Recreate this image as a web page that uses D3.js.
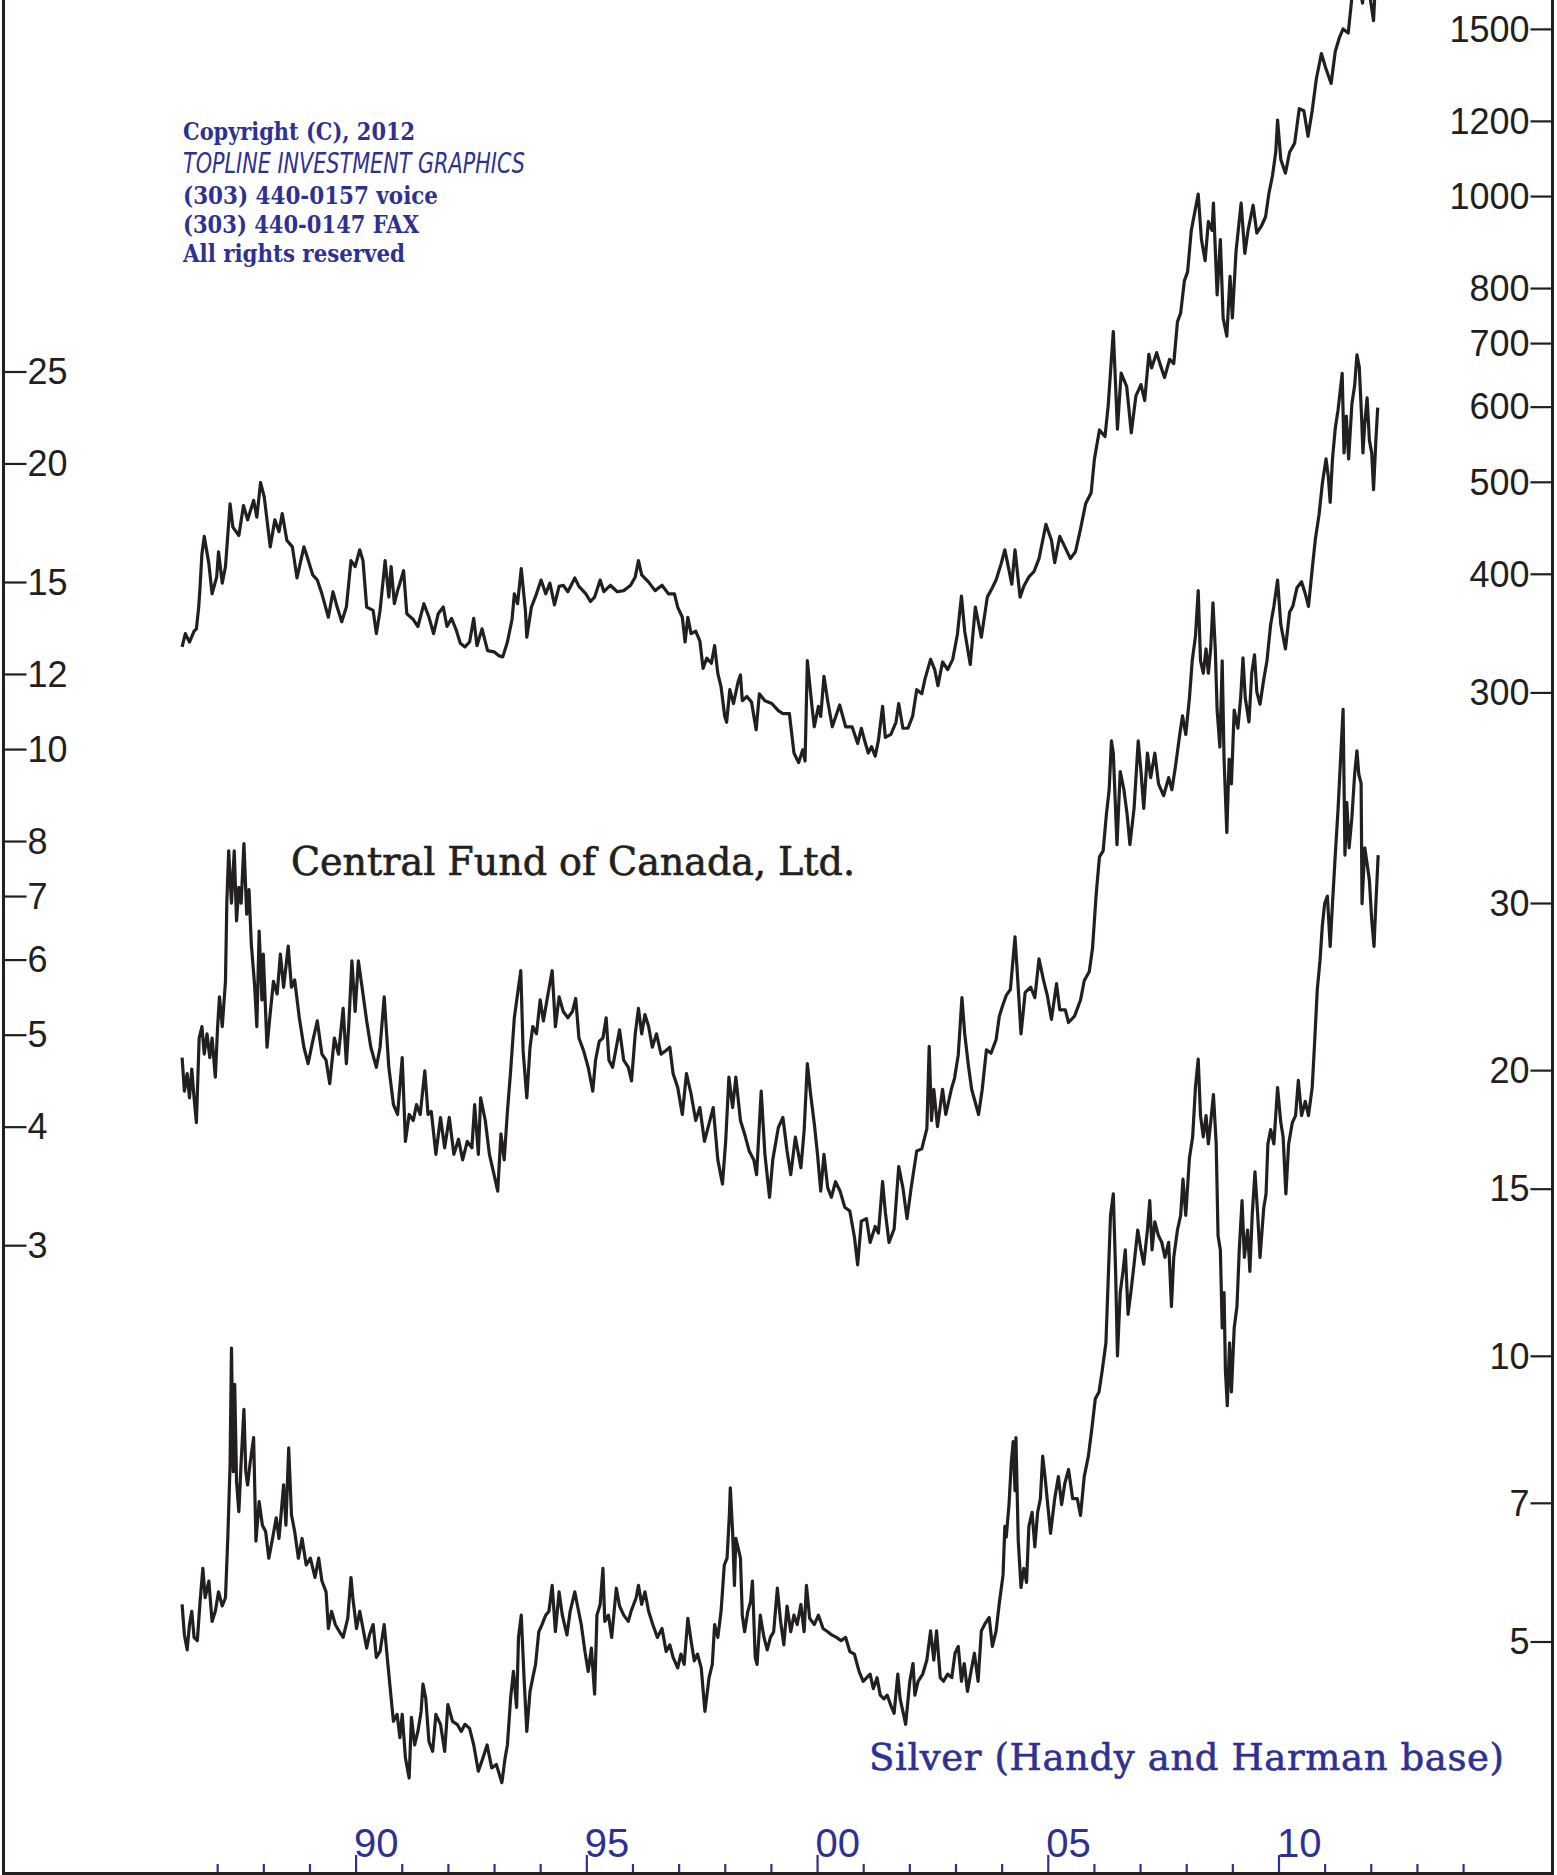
<!DOCTYPE html>
<html>
<head>
<meta charset="utf-8">
<script src="https://cdn.jsdelivr.net/npm/d3@7"></script>
<style>
  body { margin: 0; background: #fff; }
  svg { display: block; }
</style>
</head>
<body>
<div id="chart"></div>
<script>
// gold, $/oz
const goldPrice = [
  [1986.24,335],[1986.31,346],[1986.40,339],[1986.50,348],[1986.55,350],[1986.60,369],[1986.63,388],[1986.67,420],[1986.72,438],[1986.82,410],[1986.89,381],[1986.99,397],
  [1987.03,422],[1987.11,391],[1987.18,407],[1987.28,474],[1987.34,448],[1987.47,439],[1987.57,472],[1987.66,456],[1987.79,478],[1987.86,459],[1987.94,499],
  [1988.02,482],[1988.15,427],[1988.25,456],[1988.34,443],[1988.41,463],[1988.51,434],[1988.63,427],[1988.73,396],[1988.88,427],[1988.93,420],
  [1989.07,399],[1989.17,394],[1989.27,381],[1989.41,360],[1989.51,383],[1989.60,369],[1989.70,356],[1989.80,369],[1989.90,413],[1989.99,407],
  [1990.09,424],[1990.16,413],[1990.24,369],[1990.38,366],[1990.45,346],[1990.53,366],[1990.64,413],[1990.72,378],[1990.77,407],[1990.84,372],[1990.91,384],[1990.96,391],
  [1991.04,403],[1991.11,363],[1991.25,358],[1991.35,352],[1991.48,372],[1991.59,360],[1991.69,346],[1991.79,363],[1991.90,369],[1991.98,352],
  [1992.08,359],[1992.18,349],[1992.27,338],[1992.37,335],[1992.47,339],[1992.56,359],[1992.63,336],[1992.74,350],[1992.86,332],
  [1993.00,331],[1993.10,328],[1993.19,327],[1993.29,339],[1993.39,358],[1993.44,381],[1993.51,372],[1993.59,405],[1993.68,366],[1993.71,343],[1993.81,369],[1993.92,381],
  [1994.02,394],[1994.12,381],[1994.21,391],[1994.31,371],[1994.41,388],[1994.50,389],[1994.60,383],[1994.75,396],[1994.84,388],[1994.99,381],
  [1995.09,374],[1995.18,378],[1995.30,394],[1995.38,383],[1995.52,389],[1995.67,383],[1995.81,384],[1995.96,389],
  [1996.06,397],[1996.13,413],[1996.20,399],[1996.35,392],[1996.49,384],[1996.64,389],[1996.78,381],[1996.91,381],[1996.98,369],
  [1997.08,360],[1997.14,339],[1997.20,360],[1997.27,346],[1997.37,348],[1997.46,340],[1997.53,318],[1997.61,326],[1997.71,322],[1997.78,336],[1997.85,314],[1997.92,304],
  [1998.00,283],[1998.04,279],[1998.11,302],[1998.19,292],[1998.29,308],[1998.34,313],[1998.38,294],[1998.48,297],[1998.58,293],[1998.68,274],[1998.75,299],[1998.87,294],
  [1999.02,292],[1999.16,287],[1999.26,285],[1999.40,285],[1999.50,259],[1999.60,253],[1999.69,261],[1999.74,254],[1999.79,324],[1999.89,290],[1999.94,276],
  [2000.03,290],[2000.08,283],[2000.15,312],[2000.23,294],[2000.33,276],[2000.49,291],[2000.62,276],[2000.76,276],[2000.88,265],[2000.96,275],
  [2001.03,267],[2001.11,259],[2001.18,263],[2001.26,257],[2001.33,267],[2001.42,290],[2001.48,269],[2001.60,271],[2001.71,279],[2001.77,292],[2001.86,275],[2001.97,275],
  [2002.07,283],[2002.16,302],[2002.27,299],[2002.34,310],[2002.46,325],[2002.55,317],[2002.62,305],[2002.72,323],[2002.83,317],[2002.94,325],
  [2003.04,345],[2003.13,379],[2003.20,348],[2003.32,321],[2003.43,369],[2003.56,343],[2003.69,378],[2003.79,386],[2003.88,394],[2003.99,410],
  [2004.07,424],[2004.14,408],[2004.22,390],[2004.29,424],[2004.40,378],[2004.48,388],[2004.59,397],[2004.70,402],[2004.81,415],[2004.96,451],
  [2005.08,434],[2005.15,411],[2005.26,438],[2005.37,427],[2005.49,415],[2005.60,422],[2005.71,446],[2005.82,474],[2005.94,487],
  [2006.01,528],[2006.12,567],[2006.24,558],[2006.31,602],[2006.42,720],[2006.51,568],[2006.59,651],[2006.71,630],[2006.81,563],[2006.91,616],
  [2007.02,633],[2007.10,609],[2007.19,681],[2007.25,659],[2007.36,684],[2007.43,666],[2007.53,644],[2007.64,673],[2007.73,666],[2007.81,737],[2007.88,753],[2007.96,814],
  [2008.03,832],[2008.11,920],[2008.26,1005],[2008.33,900],[2008.41,855],[2008.48,940],[2008.56,920],[2008.59,983],[2008.67,787],[2008.74,900],[2008.80,744],[2008.88,712],[2008.95,823],
  [2009.00,744],[2009.08,875],[2009.19,983],[2009.27,870],[2009.34,920],[2009.45,978],[2009.53,914],[2009.63,930],[2009.72,951],[2009.79,1005],[2009.87,1051],[2009.94,1112],[2009.98,1202],
  [2010.05,1093],[2010.15,1057],[2010.24,1112],[2010.35,1137],[2010.45,1236],[2010.55,1230],[2010.64,1156],[2010.73,1230],[2010.82,1329],[2010.93,1413],
  [2011.02,1366],[2011.14,1314],[2011.23,1420],[2011.32,1469],[2011.40,1500],[2011.51,1485],[2011.58,1600],[2011.66,1780],[2011.72,1850],[2011.78,1640],[2011.82,1597],[2011.86,1660],[2011.94,1700],
  [2012.00,1600],[2012.06,1530],[2012.09,1640],[2012.13,1720]
];

// Central Fund of Canada, $ (left scale)
const cefPrice = [
  [1986.24,4.73],[1986.29,4.36],[1986.35,4.55],[1986.40,4.29],[1986.45,4.60],[1986.50,4.29],[1986.55,4.04],[1986.61,4.96],[1986.67,5.10],[1986.72,4.77],[1986.78,5.01],[1986.84,4.73],[1986.89,4.96],[1986.96,4.51],
  [1987.01,5.10],[1987.05,5.48],[1987.11,5.10],[1987.18,5.69],[1987.21,6.91],[1987.25,7.81],[1987.31,6.88],[1987.37,7.81],[1987.42,6.59],[1987.47,7.15],[1987.52,6.88],[1987.58,7.95],[1987.64,6.70],[1987.69,7.11],[1987.74,6.23],[1987.81,5.65],[1987.86,5.10],[1987.91,6.43],[1987.97,5.44],
  [1988.00,6.08],[1988.08,4.85],[1988.15,5.27],[1988.22,5.69],[1988.30,5.52],[1988.37,6.08],[1988.44,5.61],[1988.54,6.20],[1988.61,5.61],[1988.68,5.71],[1988.78,5.21],[1988.88,4.85],[1988.97,4.66],
  [1989.07,4.92],[1989.17,5.17],[1989.27,4.77],[1989.36,4.70],[1989.44,4.44],[1989.54,4.96],[1989.63,4.77],[1989.73,5.33],[1989.80,4.66],[1989.85,5.10],[1989.92,5.98],[1989.99,5.29],
  [1990.06,5.98],[1990.14,5.61],[1990.24,5.17],[1990.33,4.85],[1990.45,4.62],[1990.53,4.85],[1990.62,5.48],[1990.72,4.62],[1990.82,4.22],[1990.91,4.12],
  [1991.01,4.73],[1991.08,3.86],[1991.16,4.12],[1991.25,4.06],[1991.32,4.22],[1991.40,4.12],[1991.50,4.58],[1991.57,4.12],[1991.64,4.15],[1991.74,3.74],[1991.84,4.09],[1991.93,3.80],
  [1992.03,4.09],[1992.13,3.74],[1992.23,3.88],[1992.32,3.69],[1992.42,3.86],[1992.52,3.80],[1992.58,4.22],[1992.66,3.74],[1992.71,4.29],[1992.81,4.06],[1992.90,3.74],
  [1993.00,3.56],[1993.08,3.42],[1993.15,3.93],[1993.22,3.69],[1993.29,4.15],[1993.36,4.58],[1993.44,5.21],[1993.51,5.52],[1993.58,5.84],[1993.63,4.81],[1993.71,4.29],[1993.78,4.85],[1993.84,5.10],[1993.92,5.01],
  [1994.00,5.44],[1994.07,5.17],[1994.17,5.52],[1994.26,5.84],[1994.33,5.10],[1994.41,5.48],[1994.50,5.29],[1994.60,5.21],[1994.70,5.29],[1994.77,5.46],[1994.84,4.96],[1994.94,4.81],
  [1995.04,4.62],[1995.14,4.36],[1995.20,4.70],[1995.28,4.92],[1995.36,4.96],[1995.43,5.21],[1995.49,4.70],[1995.57,4.62],[1995.65,4.85],[1995.72,5.06],[1995.81,4.70],[1995.91,4.62],[1995.98,4.47],
  [1996.06,5.01],[1996.13,5.33],[1996.20,5.01],[1996.27,5.25],[1996.35,5.10],[1996.43,4.85],[1996.52,5.01],[1996.62,4.77],[1996.72,4.81],[1996.81,4.85],[1996.88,4.55],[1996.98,4.40],
  [1997.08,4.12],[1997.17,4.55],[1997.27,4.33],[1997.37,4.06],[1997.46,4.19],[1997.56,3.86],[1997.66,4.03],[1997.75,4.19],[1997.85,3.69],[1997.95,3.48],
  [1998.02,3.86],[1998.09,4.51],[1998.17,4.19],[1998.24,4.51],[1998.34,4.06],[1998.43,3.93],[1998.53,3.77],[1998.63,3.69],[1998.69,3.56],[1998.79,4.36],[1998.87,3.74],[1998.97,3.37],
  [1999.04,3.69],[1999.16,3.99],[1999.26,4.09],[1999.35,3.77],[1999.43,3.56],[1999.53,3.90],[1999.65,3.62],[1999.72,3.96],[1999.79,4.66],[1999.86,4.33],[1999.94,4.03],
  [2000.01,3.74],[2000.08,3.42],[2000.15,3.74],[2000.23,3.45],[2000.31,3.37],[2000.40,3.50],[2000.50,3.42],[2000.60,3.29],[2000.71,3.26],[2000.81,3.06],[2000.88,2.86],[2000.96,3.18],
  [2001.07,3.20],[2001.15,3.02],[2001.26,3.14],[2001.33,3.09],[2001.42,3.50],[2001.48,3.25],[2001.56,3.02],[2001.67,3.12],[2001.77,3.63],[2001.86,3.45],[2001.95,3.20],
  [2002.04,3.45],[2002.16,3.77],[2002.27,3.79],[2002.38,3.98],[2002.43,4.86],[2002.48,4.06],[2002.53,4.38],[2002.61,4.00],[2002.72,4.38],[2002.79,4.12],[2002.91,4.38],[2002.98,4.50],
  [2003.06,4.76],[2003.14,5.47],[2003.20,5.01],[2003.28,4.64],[2003.35,4.38],[2003.50,4.12],[2003.58,4.38],[2003.67,4.82],[2003.77,4.78],[2003.88,4.94],[2003.95,5.23],
  [2004.03,5.38],[2004.10,5.50],[2004.19,5.58],[2004.29,6.34],[2004.35,5.70],[2004.42,5.01],[2004.51,5.54],[2004.63,5.61],[2004.72,5.47],[2004.81,6.01],[2004.91,5.70],[2004.99,5.50],
  [2005.08,5.19],[2005.19,5.66],[2005.26,5.31],[2005.38,5.31],[2005.45,5.15],[2005.58,5.23],[2005.71,5.44],[2005.79,5.70],[2005.90,5.83],[2005.97,6.17],
  [2006.05,7.04],[2006.12,7.70],[2006.20,7.81],[2006.27,8.53],[2006.33,9.06],[2006.38,10.20],[2006.42,9.90],[2006.50,7.93],[2006.57,9.47],[2006.65,9.06],[2006.72,8.53],[2006.78,7.93],[2006.87,8.66],[2006.96,10.20],
  [2007.02,9.47],[2007.08,8.66],[2007.16,9.90],[2007.23,9.33],[2007.32,9.90],[2007.40,9.19],[2007.51,8.93],[2007.62,9.33],[2007.69,9.06],[2007.77,9.61],[2007.86,10.36],[2007.92,10.84],[2007.99,10.36],
  [2008.07,11.32],[2008.13,12.39],[2008.20,13.14],[2008.26,14.69],[2008.31,12.39],[2008.37,12.02],[2008.43,12.75],[2008.48,12.02],[2008.53,12.75],[2008.58,14.26],[2008.63,12.75],[2008.67,10.99],[2008.73,10.05],[2008.78,12.39],[2008.82,9.76],[2008.88,8.17],[2008.93,9.76],[2008.98,9.19],
  [2009.04,10.99],[2009.12,10.52],[2009.18,11.32],[2009.23,12.48],[2009.28,11.32],[2009.36,10.68],[2009.42,12.02],[2009.48,12.57],[2009.53,11.49],[2009.60,11.15],[2009.68,11.84],[2009.75,12.39],[2009.83,13.53],[2009.90,14.14],[2009.98,15.07],
  [2010.05,13.53],[2010.15,12.75],[2010.24,13.94],[2010.31,14.14],[2010.40,14.79],[2010.50,15.01],[2010.58,14.58],[2010.65,14.14],[2010.73,15.47],[2010.80,16.66],[2010.88,17.68],[2010.95,19.05],
  [2011.03,20.22],[2011.08,19.37],[2011.12,18.20],[2011.17,20.22],[2011.23,21.78],[2011.29,22.76],[2011.32,23.45],[2011.38,24.89],[2011.42,20.52],[2011.47,22.43],[2011.52,20.22],[2011.59,23.10],[2011.65,24.16],[2011.70,26.03],[2011.75,25.28],[2011.80,22.43],[2011.83,20.52],[2011.87,22.05],[2011.92,23.45],[2011.97,21.15],
  [2012.02,20.52],[2012.06,18.77],[2012.11,21.15],[2012.15,22.90]
];

// silver, Handy and Harman base, $/oz (right-hand lower scale)
const silverPrice = [
  [1986.24,5.47],[1986.29,5.08],[1986.35,4.90],[1986.40,5.21],[1986.45,5.38],[1986.50,5.05],[1986.57,5.01],[1986.63,5.51],[1986.69,5.97],[1986.74,5.56],[1986.82,5.79],[1986.89,5.25],[1986.96,5.38],
  [1987.03,5.64],[1987.11,5.45],[1987.18,5.56],[1987.23,6.42],[1987.28,7.68],[1987.31,10.19],[1987.35,7.55],[1987.38,9.33],[1987.42,7.37],[1987.47,6.85],[1987.52,7.73],[1987.58,8.78],[1987.62,7.55],[1987.66,7.31],[1987.71,7.68],[1987.79,8.20],[1987.84,6.38],[1987.91,7.02],[1987.98,6.63],
  [1988.05,6.53],[1988.12,6.12],[1988.20,6.42],[1988.28,6.75],[1988.34,6.42],[1988.44,7.31],[1988.49,6.63],[1988.55,8.00],[1988.61,6.80],[1988.68,6.53],[1988.76,6.12],[1988.84,6.42],[1988.93,6.02],
  [1989.02,6.12],[1989.12,5.84],[1989.20,6.12],[1989.27,5.79],[1989.36,5.64],[1989.41,5.16],[1989.48,5.38],[1989.56,5.21],[1989.65,5.12],[1989.73,5.05],[1989.83,5.29],[1989.90,5.84],[1989.94,5.56],
  [1990.02,5.16],[1990.09,5.38],[1990.16,5.16],[1990.24,4.92],[1990.30,5.08],[1990.38,5.21],[1990.45,4.81],[1990.53,4.88],[1990.62,5.21],[1990.70,4.73],[1990.77,4.36],[1990.82,4.12],[1990.90,4.19],[1990.96,3.96],
  [1991.01,4.19],[1991.08,3.77],[1991.16,3.59],[1991.21,4.16],[1991.28,3.89],[1991.35,4.02],[1991.42,4.22],[1991.46,4.51],[1991.52,4.36],[1991.59,3.92],[1991.67,3.83],[1991.74,4.19],[1991.84,4.09],[1991.93,3.83],
  [1992.00,4.29],[1992.10,4.12],[1992.20,4.09],[1992.29,4.02],[1992.37,4.09],[1992.47,4.05],[1992.56,3.89],[1992.66,3.65],[1992.76,3.77],[1992.85,3.89],[1992.95,3.68],
  [1993.05,3.71],[1993.17,3.55],[1993.24,3.77],[1993.29,3.89],[1993.36,4.36],[1993.42,4.65],[1993.49,4.26],[1993.53,5.05],[1993.59,5.33],[1993.65,4.58],[1993.71,4.02],[1993.78,4.43],[1993.84,4.58],[1993.90,4.73],[1993.97,5.12],
  [1994.04,5.21],[1994.12,5.33],[1994.19,5.38],[1994.26,5.73],[1994.33,5.12],[1994.41,5.64],[1994.48,5.33],[1994.58,5.08],[1994.65,5.38],[1994.75,5.64],[1994.81,5.45],[1994.89,5.21],[1994.97,4.88],
  [1995.04,4.65],[1995.11,4.92],[1995.18,4.40],[1995.23,5.33],[1995.30,5.47],[1995.36,5.97],[1995.40,5.25],[1995.48,5.33],[1995.55,5.05],[1995.65,5.69],[1995.72,5.45],[1995.81,5.33],[1995.91,5.25],[1995.97,5.38],
  [1996.08,5.56],[1996.13,5.73],[1996.20,5.47],[1996.27,5.64],[1996.35,5.38],[1996.44,5.21],[1996.54,5.05],[1996.64,5.16],[1996.73,4.88],[1996.81,4.96],[1996.88,4.81],[1996.98,4.69],
  [1997.05,4.85],[1997.12,4.73],[1997.20,5.29],[1997.27,5.01],[1997.34,4.77],[1997.41,4.85],[1997.49,4.69],[1997.57,4.22],[1997.66,4.58],[1997.73,4.73],[1997.78,5.21],[1997.85,5.05],[1997.92,5.38],[1997.99,6.02],
  [1998.05,6.12],[1998.10,6.80],[1998.12,7.26],[1998.17,6.53],[1998.21,5.73],[1998.24,6.42],[1998.29,6.27],[1998.34,6.12],[1998.38,5.33],[1998.43,5.12],[1998.50,5.38],[1998.56,5.51],[1998.60,5.79],[1998.66,4.81],[1998.70,4.73],[1998.77,5.33],[1998.85,5.05],[1998.92,4.90],[1998.99,5.05],
  [1999.06,5.12],[1999.14,5.69],[1999.21,5.25],[1999.28,4.96],[1999.35,5.45],[1999.43,5.12],[1999.50,5.33],[1999.57,5.21],[1999.65,5.47],[1999.72,5.12],[1999.77,5.73],[1999.84,5.29],[1999.94,5.21],
  [2000.03,5.33],[2000.13,5.16],[2000.23,5.12],[2000.32,5.08],[2000.42,5.05],[2000.52,5.01],[2000.62,5.05],[2000.71,4.88],[2000.81,4.85],[2000.91,4.65],[2001.00,4.54],
  [2001.15,4.62],[2001.22,4.46],[2001.30,4.58],[2001.37,4.39],[2001.45,4.35],[2001.52,4.39],[2001.60,4.28],[2001.67,4.20],[2001.75,4.62],[2001.80,4.35],[2001.87,4.20],[2001.92,4.09],
  [2002.01,4.54],[2002.08,4.74],[2002.12,4.39],[2002.19,4.54],[2002.29,4.62],[2002.38,4.78],[2002.46,5.13],[2002.53,4.78],[2002.59,5.13],[2002.67,4.58],[2002.74,4.54],[2002.83,4.62],[2002.92,4.58],[2002.99,4.86],
  [2003.06,4.94],[2003.13,4.54],[2003.19,4.74],[2003.26,4.43],[2003.34,4.66],[2003.41,4.86],[2003.49,4.54],[2003.56,5.13],[2003.64,5.22],[2003.73,5.30],[2003.80,4.94],[2003.88,5.13],[2003.95,5.49],
  [2004.03,5.87],[2004.07,6.61],[2004.10,6.44],[2004.16,6.97],[2004.21,7.72],[2004.25,8.12],[2004.29,7.21],[2004.31,8.20],[2004.36,6.39],[2004.42,5.70],[2004.48,5.97],[2004.54,5.77],[2004.59,6.61],[2004.66,6.84],[2004.72,6.29],[2004.78,6.84],[2004.84,7.07],[2004.89,7.84],[2004.94,7.46],
  [2005.06,6.50],[2005.15,7.07],[2005.23,7.46],[2005.30,6.97],[2005.37,7.34],[2005.45,7.59],[2005.54,7.07],[2005.64,7.07],[2005.71,6.79],[2005.79,7.46],[2005.88,7.84],[2005.96,8.42],
  [2006.03,9.01],[2006.11,9.16],[2006.18,9.65],[2006.26,10.32],[2006.31,12.05],[2006.36,14.06],[2006.42,14.81],[2006.47,12.27],[2006.51,10.00],[2006.57,11.66],[2006.63,12.27],[2006.68,12.93],[2006.74,11.06],[2006.80,11.66],[2006.87,12.49],[2006.95,13.57],
  [2007.02,12.93],[2007.08,12.49],[2007.16,13.57],[2007.21,14.57],[2007.26,12.93],[2007.32,13.84],[2007.40,13.38],[2007.47,13.17],[2007.54,12.70],[2007.62,13.17],[2007.68,11.27],[2007.73,12.70],[2007.81,13.57],[2007.88,14.06],[2007.93,15.35],[2007.99,14.06],
  [2008.07,16.16],[2008.14,17.01],[2008.20,19.17],[2008.26,20.54],[2008.31,17.91],[2008.37,17.01],[2008.43,17.91],[2008.48,16.72],[2008.53,17.61],[2008.59,18.85],[2008.65,16.72],[2008.69,13.38],[2008.74,12.93],[2008.78,10.70],[2008.82,11.66],[2008.85,9.65],[2008.89,8.86],[2008.94,10.32],[2008.98,9.16],
  [2009.04,10.70],[2009.10,11.27],[2009.15,12.93],[2009.21,14.57],[2009.26,12.70],[2009.33,13.57],[2009.38,12.27],[2009.43,14.06],[2009.49,15.63],[2009.55,14.06],[2009.60,12.70],[2009.68,14.31],[2009.73,14.81],[2009.77,16.72],[2009.83,17.31],[2009.90,16.72],[2009.98,19.17],
  [2010.05,17.61],[2010.10,17.01],[2010.16,14.81],[2010.22,16.72],[2010.30,17.61],[2010.37,17.91],[2010.43,19.51],[2010.50,17.91],[2010.58,18.54],[2010.65,17.91],[2010.73,19.17],[2010.78,21.26],[2010.84,24.3],[2010.90,26.1],[2010.95,28.4],
  [2011.00,29.96],[2011.06,30.5],[2011.12,27.0],[2011.17,29.96],[2011.23,33.7],[2011.29,37.6],[2011.35,43.0],[2011.40,48.0],[2011.44,33.7],[2011.48,38.3],[2011.53,34.3],[2011.59,36.9],[2011.65,41.0],[2011.70,43.4],[2011.74,41.0],[2011.79,40.1],[2011.81,29.96],[2011.87,34.3],[2011.92,33.0],[2011.97,31.7],
  [2012.02,28.8],[2012.07,27.0],[2012.11,29.96],[2012.16,33.7]
];

const goldTicks = [300, 400, 500, 600, 700, 800, 1000, 1200, 1500];
const silverTicks = [5, 7, 10, 15, 20, 30];
const cefTicks = [3, 4, 5, 6, 7, 8, 10, 12, 15, 20, 25];
const yearTicks = [1987, 1988, 1989, 1990, 1991, 1992, 1993, 1994, 1995, 1996, 1997, 1998, 1999, 2000,
                   2001, 2002, 2003, 2004, 2005, 2006, 2007, 2008, 2009, 2010, 2011, 2012, 2013, 2014];
const yearLabels = { 1990: "90", 1995: "95", 2000: "00", 2005: "05", 2010: "10" };

const copyrightLines = ["Copyright (C), 2012", "TOPLINE INVESTMENT GRAPHICS", "(303) 440-0157 voice", "(303) 440-0147 FAX", "All rights reserved"];

const W = 1557, H = 1875;
const ink = "#231f20", blue = "#2e3192";
const axisFont = "'Liberation Sans', Arial, sans-serif";

const svg = d3.select("#chart").append("svg")
  .attr("width", W).attr("height", H)
  .style("background", "#fff");

// scales: all three share the same log step (~949px per decade)
const x = d3.scaleLinear().domain([1990, 2010]).range([355.6, 1278.5]);
const yGold = d3.scaleLog().domain([300, 1500]).range([692.4, 28.9]);
const yCef = d3.scaleLog().domain([3, 25]).range([1245.2, 371.5]);
const ySilver = d3.scaleLog().domain([5, 30]).range([1641.5, 903]);

svg.append("clipPath").attr("id", "plot")
  .append("rect").attr("x", 5).attr("y", 0).attr("width", 1546).attr("height", 1871);

const plot = svg.append("g").attr("clip-path", "url(#plot)");

function drawSeries(data, y) {
  const line = d3.line().x(d => x(d[0])).y(d => y(d[1]));
  plot.append("path")
    .datum(data)
    .attr("d", line)
    .attr("fill", "none")
    .attr("stroke", ink)
    .attr("stroke-width", 3.2)
    .attr("stroke-linejoin", "round");
}
drawSeries(goldPrice, yGold);
drawSeries(cefPrice, yCef);
drawSeries(silverPrice, ySilver);

// frame (no top rule in the original)
svg.append("path")
  .attr("d", "M3.5,0V1873.5H1552.5V0")
  .attr("fill", "none").attr("stroke", ink).attr("stroke-width", 3);

// left scale (CEF)
const leftAxis = svg.append("g")
  .attr("transform", "translate(3.5,0)")
  .call(d3.axisRight(yCef).tickValues(cefTicks).tickSize(23).tickPadding(1).tickFormat(d3.format("d")));

// right scales (gold above, silver below)
const goldAxis = svg.append("g")
  .attr("transform", "translate(1552.5,0)")
  .call(d3.axisLeft(yGold).tickValues(goldTicks).tickSize(22).tickPadding(1).tickFormat(d3.format("d")));
const silverAxis = svg.append("g")
  .attr("transform", "translate(1552.5,0)")
  .call(d3.axisLeft(ySilver).tickValues(silverTicks).tickSize(22).tickPadding(1).tickFormat(d3.format("d")));

[leftAxis, goldAxis, silverAxis].forEach(g => {
  g.select(".domain").remove();
  g.selectAll(".tick line").attr("stroke", ink).attr("stroke-width", 2.2);
  g.selectAll(".tick text")
    .attr("fill", ink)
    .style("font-family", axisFont)
    .style("font-size", "36px")
    .attr("dy", "0.34em");
});

// year axis
const xAxis = svg.append("g")
  .attr("transform", "translate(0,1872)")
  .call(d3.axisTop(x).tickValues(yearTicks).tickSize(8).tickFormat(d => yearLabels[d] || ""));
xAxis.select(".domain").remove();
xAxis.selectAll(".tick line").attr("stroke", blue).attr("stroke-width", 2.2)
  .attr("y2", d => yearLabels[d] ? -17 : -8);
xAxis.selectAll(".tick text")
  .attr("fill", blue)
  .attr("text-anchor", "start")
  .attr("x", -2)
  .attr("y", -15)
  .attr("dy", 0)
  .style("font-family", axisFont)
  .style("font-size", "40px");

// copyright block
const cp = svg.append("g").attr("fill", blue);
const cpBase = [140, 172.5, 204, 233, 261.5];
const cpWidth = [232, 342, 255, 236, 222];
copyrightLines.forEach((t, i) => {
  const txt = cp.append("text")
    .attr("x", 183).attr("y", cpBase[i])
    .attr("textLength", cpWidth[i])
    .attr("lengthAdjust", "spacingAndGlyphs")
    .text(t);
  if (i === 1) {
    txt.style("font-family", "'DejaVu Sans Condensed', 'DejaVu Sans', sans-serif")
      .style("font-style", "italic").style("font-size", "29px");
  } else {
    txt.style("font-family", "'DejaVu Serif Condensed', 'DejaVu Serif', serif")
      .style("font-weight", "bold").style("font-size", "24px");
  }
});

// series titles
svg.append("text")
  .attr("x", 291).attr("y", 875)
  .attr("textLength", 564).attr("lengthAdjust", "spacingAndGlyphs")
  .attr("fill", ink)
  .attr("stroke", ink).attr("stroke-width", 0.6)
  .style("font-family", "'DejaVu Serif Condensed', 'DejaVu Serif', serif")
  .style("font-size", "39px")
  .text("Central Fund of Canada, Ltd.");

svg.append("text")
  .attr("x", 869).attr("y", 1770)
  .attr("textLength", 635).attr("lengthAdjust", "spacing")
  .attr("fill", blue)
  .attr("stroke", blue).attr("stroke-width", 0.6)
  .style("font-family", "'DejaVu Serif', serif")
  .style("font-size", "37px")
  .text("Silver (Handy and Harman base)");
</script>
</body>
</html>
